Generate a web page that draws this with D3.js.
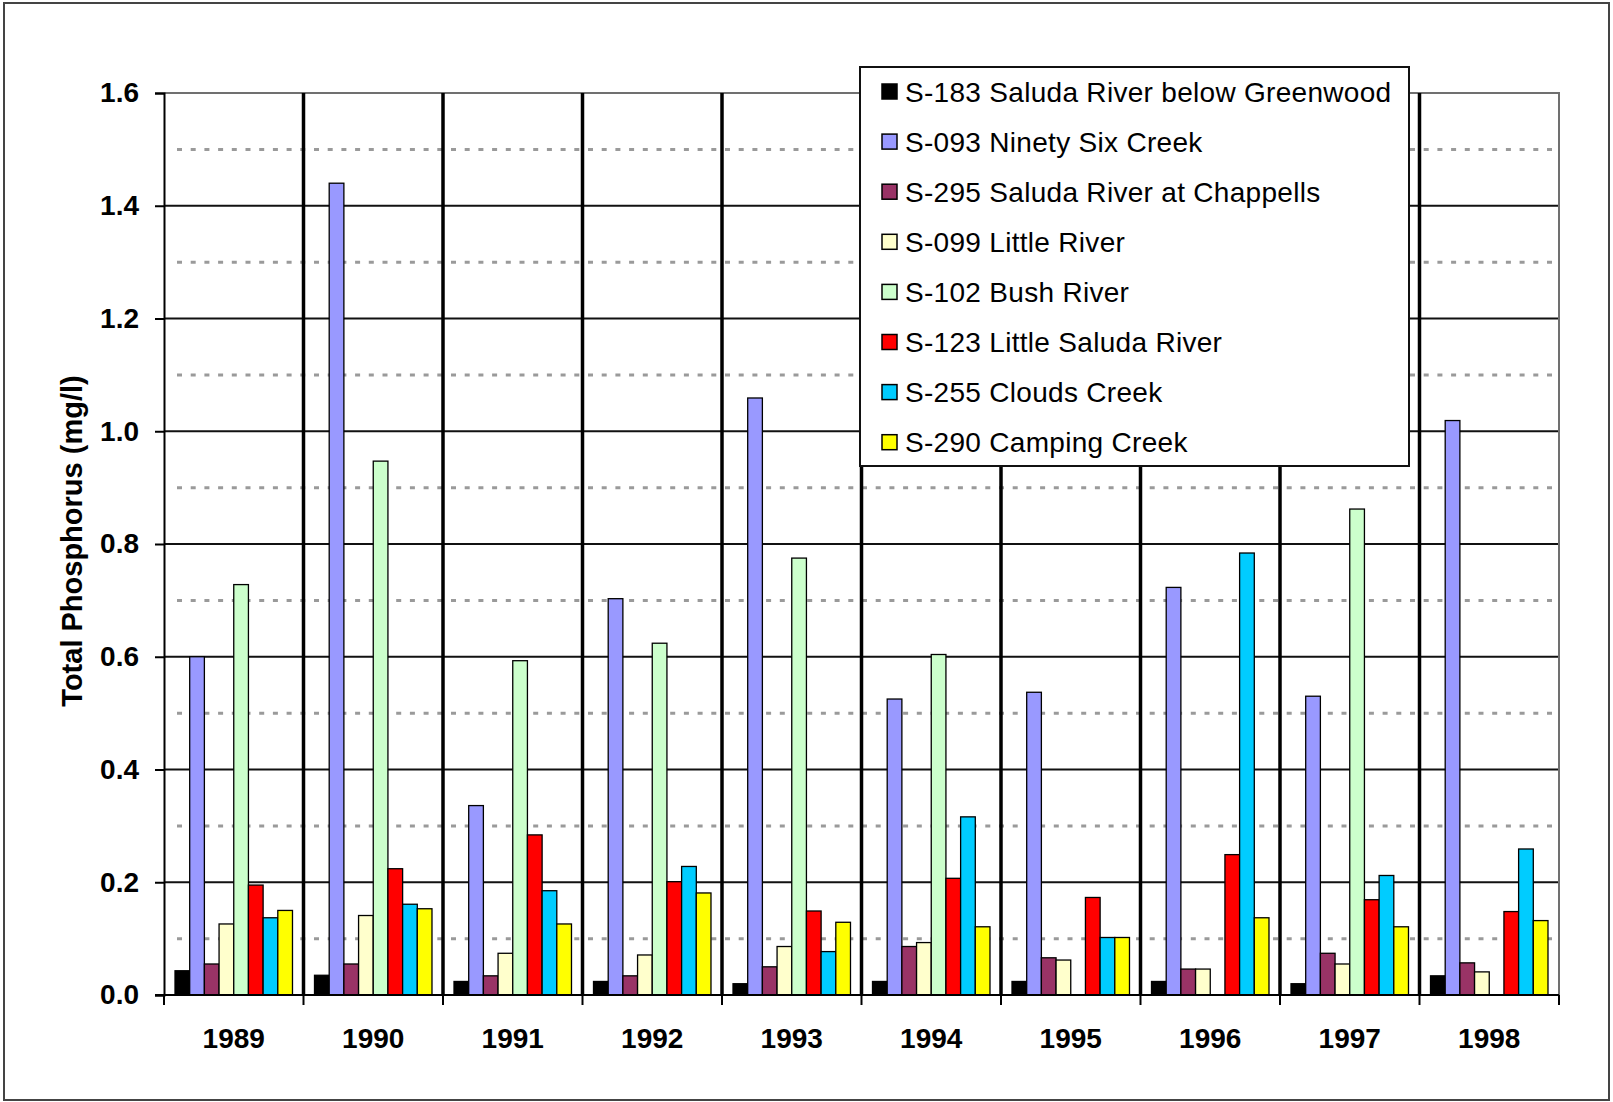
<!DOCTYPE html>
<html><head><meta charset="utf-8">
<script src="https://cdn.jsdelivr.net/npm/d3@7"></script>
<style>
html,body{margin:0;padding:0;background:#fff;}
svg{display:block;}
</style></head><body>
<svg id="chart" width="1613" height="1102"></svg>
<script>
// ---- data ----
const years = ["1989","1990","1991","1992","1993","1994","1995","1996","1997","1998"];
const seriesNames = [
  "S-183 Saluda River below Greenwood",
  "S-093 Ninety Six Creek",
  "S-295 Saluda River at Chappells",
  "S-099 Little River",
  "S-102 Bush River",
  "S-123 Little Saluda River",
  "S-255 Clouds Creek",
  "S-290 Camping Creek"
];
const seriesColors = ["#000000","#9999FF","#993366","#FFFFCC","#CCFFCC","#FF0000","#00CCFF","#FFFF00"];
const s183 = [0.043,0.035,0.024,0.024,0.020,0.024,0.024,0.024,0.020,0.034];
const s093 = [0.600,1.440,0.336,0.703,1.059,0.525,0.537,0.723,0.530,1.019];
const s295 = [0.055,0.055,0.034,0.034,0.050,0.086,0.066,0.046,0.074,0.057];
const s099 = [0.126,0.141,0.074,0.071,0.086,0.093,0.062,0.046,0.055,0.041];
const s102 = [0.728,0.947,0.593,0.624,0.775,0.604,null,null,0.862,null];
const s123 = [0.195,0.224,0.284,0.201,0.149,0.207,0.173,0.249,0.169,0.148];
const s255 = [0.137,0.161,0.185,0.228,0.077,0.316,0.102,0.784,0.212,0.259];
const s290 = [0.150,0.153,0.126,0.181,0.129,0.121,0.102,0.137,0.121,0.132];
const seriesValues = [s183,s093,s295,s099,s102,s123,s255,s290];
const yMajorTicks = [0,0.2,0.4,0.6,0.8,1.0,1.2,1.4,1.6];
const yMinorTicks = [0.1,0.3,0.5,0.7,0.9,1.1,1.3,1.5];
const yTitle = "Total Phosphorus (mg/l)";

// ---- layout ----
const svg = d3.select("#chart");
const L = 164, R = 1559, T = 93, B = 995;

svg.append("rect").attr("x",4).attr("y",3).attr("width",1605).attr("height",1097)
  .attr("fill","#fff").attr("stroke","#444").attr("stroke-width",2);

const x = d3.scaleBand().domain(years).range([L,R])
  .paddingInner(1.5/9.5).paddingOuter(0.75/9.5);
const xs = d3.scaleBand().domain(d3.range(seriesNames.length)).range([0,x.bandwidth()]);
const y = d3.scaleLinear().domain([0,1.6]).range([B,T]);

// minor dotted grid
svg.append("g").selectAll("line").data(yMinorTicks).join("line")
  .attr("x1",L+13).attr("x2",R-4).attr("y1",d=>y(d)).attr("y2",d=>y(d))
  .attr("stroke","#9a9a9a").attr("stroke-width",3).attr("stroke-dasharray","5,8.7");

// major grid
svg.append("g").selectAll("line").data(yMajorTicks.filter(d=>d>0&&d<1.6)).join("line")
  .attr("x1",L).attr("x2",R).attr("y1",d=>y(d)).attr("y2",d=>y(d))
  .attr("stroke","#111").attr("stroke-width",2);

// plot border (top/right)
svg.append("path").attr("d",`M${L},${T}H${R}V${B}`).attr("fill","none")
  .attr("stroke","#707070").attr("stroke-width",2);

// vertical category separators
const step = x.step();
const boundaries = years.map((d,i)=> L + i*step);
svg.append("g").selectAll("line").data(boundaries.slice(1)).join("line")
  .attr("x1",d=>d).attr("x2",d=>d).attr("y1",T).attr("y2",B)
  .attr("stroke","#000").attr("stroke-width",3.5);

// bars
const flat = [];
years.forEach((yr,i)=>seriesValues.forEach((vals,j)=>{ if(vals[i]!=null) flat.push({yr,j,v:vals[i]}); }));
svg.append("g").selectAll("rect").data(flat).join("rect")
  .attr("x",d=>x(d.yr)+xs(d.j)).attr("width",xs.bandwidth())
  .attr("y",d=>y(d.v)).attr("height",d=>B-y(d.v))
  .attr("fill",d=>seriesColors[d.j]).attr("stroke","#000").attr("stroke-width",1.3);

// y axis
const yAxis = svg.append("g").attr("transform",`translate(${L},0)`)
  .call(d3.axisLeft(y).tickValues(yMajorTicks).tickFormat(d3.format(".1f")).tickSize(9).tickPadding(16));
yAxis.select(".domain").attr("stroke","#000").attr("stroke-width",2);
yAxis.selectAll(".tick line").attr("stroke","#000").attr("stroke-width",2);
yAxis.selectAll("text").attr("font-family","Liberation Sans, Arial, sans-serif")
  .attr("font-weight","bold").attr("font-size",28).attr("fill","#000");

// x axis
const xAxis = svg.append("g").attr("transform",`translate(0,${B})`)
  .call(d3.axisBottom(x).tickSize(0).tickPadding(33));
xAxis.select(".domain").attr("d",`M${L-9},0H${R}`).attr("stroke","#000").attr("stroke-width",2);
xAxis.selectAll("text").attr("font-family","Liberation Sans, Arial, sans-serif")
  .attr("font-weight","bold").attr("font-size",28).attr("fill","#000");
svg.append("g").selectAll("line").data(boundaries.concat([R])).join("line")
  .attr("x1",d=>d).attr("x2",d=>d).attr("y1",B).attr("y2",B+10)
  .attr("stroke","#000").attr("stroke-width",2);

// y title
svg.append("text").attr("transform","translate(82,541) rotate(-90)")
  .attr("text-anchor","middle").attr("font-family","Liberation Sans, Arial, sans-serif")
  .attr("font-weight","bold").attr("font-size",29).attr("fill","#000").text(yTitle);

// legend
const lg = svg.append("g");
lg.append("rect").attr("x",860).attr("y",67).attr("width",549).attr("height",399)
  .attr("fill","#fff").attr("stroke","#111").attr("stroke-width",2);
const items = lg.selectAll("g.item").data(seriesNames).join("g").attr("class","item")
  .attr("transform",(d,i)=>`translate(0,${91.5 + i*50.1})`);
items.append("rect").attr("x",882).attr("y",-7.5).attr("width",15).attr("height",15)
  .attr("fill",(d,i)=>seriesColors[i]).attr("stroke","#000").attr("stroke-width",1.5);
items.append("text").attr("x",905).attr("y",10)
  .attr("font-family","Liberation Sans, Arial, sans-serif").attr("font-size",28)
  .attr("letter-spacing",0.3).attr("fill","#000").text(d=>d);
</script>
</body></html>
